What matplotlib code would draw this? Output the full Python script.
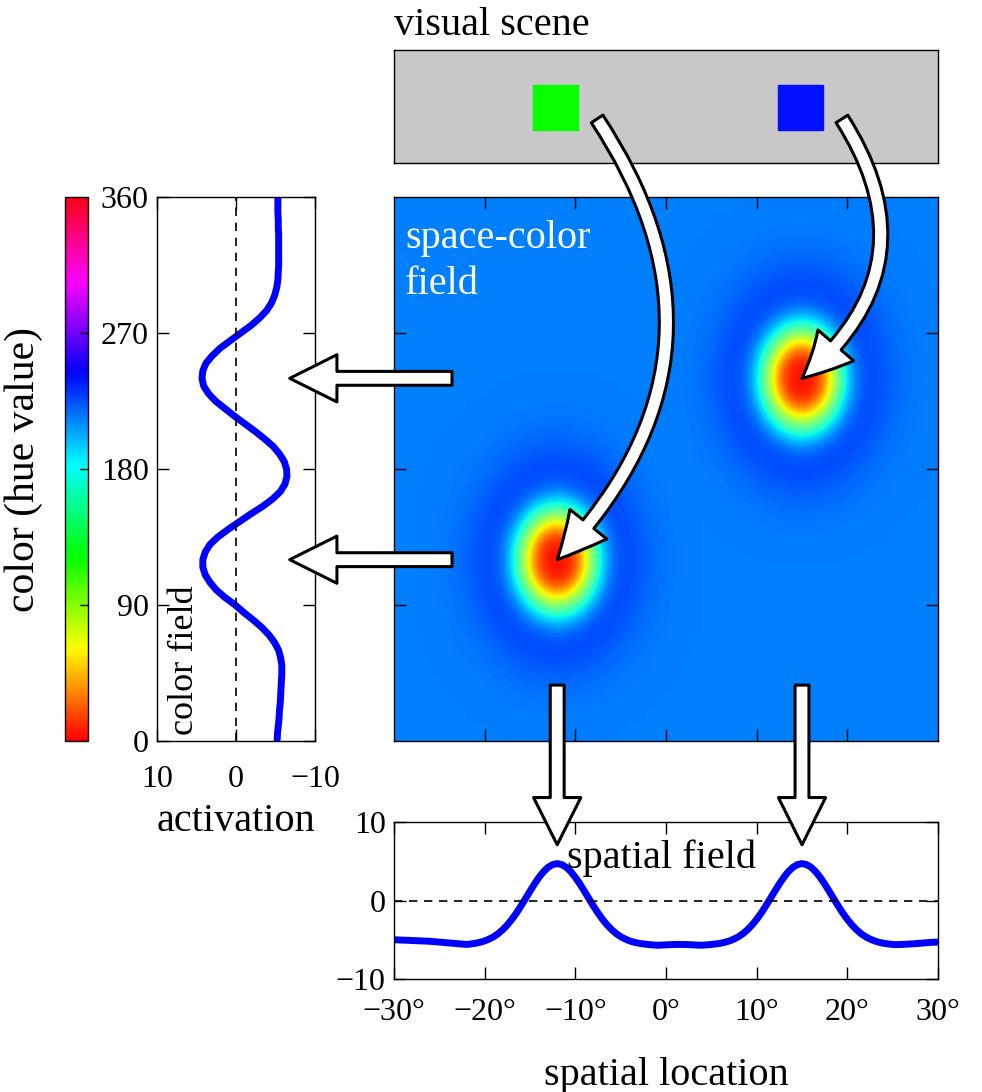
import numpy as np
import matplotlib
matplotlib.use("Agg")
import matplotlib.pyplot as plt
from matplotlib.patches import Rectangle, ConnectionPatch
from matplotlib.cm import ScalarMappable
from matplotlib.colors import Normalize

plt.rcParams['font.family'] = ['Liberation Serif', 'DejaVu Serif']
plt.rcParams['axes.linewidth'] = 1.0

# ----------------------------------------------------
# Datos

# estímulos de la escena visual (posición en grados, tono en grados)
stim_loc = [-12, 15]
stim_hue = [120, 240]

# campo espacial: activación cada 0.5 grados de -30 a 30
space_x = np.arange(-30, 30.01, 0.5)
space_act = [-5.0, -5.02, -5.05, -5.07, -5.1, -5.12, -5.15, -5.17, -5.2, -5.25,
             -5.3, -5.35, -5.4, -5.45, -5.5, -5.55, -5.6, -5.53, -5.45, -5.32,
             -5.15, -4.91, -4.61, -4.21, -3.71, -3.11, -2.4, -1.6, -0.71, 0.23,
             1.18, 2.11, 2.95, 3.68, 4.23, 4.58, 4.7, 4.58, 4.23, 3.68,
             2.95, 2.11, 1.18, 0.23, -0.71, -1.6, -2.4, -3.11, -3.71, -4.21,
             -4.61, -4.91, -5.15, -5.32, -5.45, -5.53, -5.6, -5.65, -5.7, -5.68,
             -5.65, -5.62, -5.6, -5.6, -5.6, -5.62, -5.65, -5.68, -5.7, -5.65,
             -5.6, -5.53, -5.45, -5.32, -5.15, -4.91, -4.61, -4.21, -3.71, -3.11,
             -2.4, -1.6, -0.71, 0.23, 1.18, 2.11, 2.95, 3.68, 4.23, 4.58,
             4.7, 4.58, 4.23, 3.68, 2.95, 2.11, 1.18, 0.23, -0.71, -1.6,
             -2.4, -3.11, -3.71, -4.21, -4.61, -4.91, -5.15, -5.32, -5.45, -5.53,
             -5.6, -5.62, -5.6, -5.57, -5.53, -5.5, -5.45, -5.4, -5.35, -5.32,
             -5.3]
space_ticks = [-30, -20, -10, 0, 10, 20, 30]

# campo de color: activación cada 5 grados de tono, de 0 a 360
hue_y = np.arange(0, 361, 5)
hue_act = [-5.2, -5.25, -5.35, -5.45, -5.5, -5.6, -5.65, -5.7, -5.75, -5.8,
           -5.8, -5.65, -5.4, -4.9, -4.2, -3.3, -2.2, -1.0, 0.1, 1.4,
           2.5, 3.3, 3.9, 4.2, 4.2, 3.9, 3.3, 2.3, 1.0, -0.4,
           -1.8, -3.3, -4.6, -5.6, -6.2, -6.45, -6.4, -6.1, -5.5, -4.7,
           -3.6, -2.4, -1.1, 0.2, 1.4, 2.6, 3.5, 4.1, 4.3, 4.2,
           3.8, 3.0, 2.0, 0.7, -0.6, -1.9, -3.0, -3.9, -4.5, -4.9,
           -5.15, -5.3, -5.35, -5.4, -5.4, -5.4, -5.4, -5.4, -5.35, -5.35,
           -5.3, -5.3, -5.3]
hue_ticks = [0, 90, 180, 270, 360]

# campo espacio-color: reposo, perfil radial de los picos y halo inhibitorio
field_rest = -5.0
peak_amp = 14.4
halo_amp = -1.5
hue_per_deg = 7.9          # elongación de los picos en el eje de tono
peak_r = [0, 0.75, 1.5, 2.25, 3.0, 3.75, 4.5, 5.25, 6.0, 6.75, 7.5, 8.25]
peak_w = [1.0, 0.995, 0.97, 0.88, 0.69, 0.49, 0.32, 0.19, 0.08, 0.03, 0.01, 0.0]
halo_r = [0, 3, 6, 7.5, 9, 10.5, 12, 13.5, 15]
halo_w = [1.0, 1.0, 0.9, 0.75, 0.5, 0.25, 0.1, 0.03, 0.0]
grid_x = np.arange(-30, 30.01, 1.0)
grid_h = np.arange(0, 361, 5)

gx, gh = np.meshgrid(grid_x, grid_h)
field = np.full(gx.shape, field_rest)
for xc, hc in zip(stim_loc, stim_hue):
    r = np.hypot(gx - xc, (gh - hc) / hue_per_deg)
    field += peak_amp * np.interp(r, peak_r, peak_w, right=0)
    field += halo_amp * np.interp(r, halo_r, halo_w, right=0)

# ----------------------------------------------------
# Figura

W, H = 982, 1092
fig = plt.figure(figsize=(W / 100, H / 100), dpi=100)


def box(x0, y0, x1, y1):
    # caja en pixeles (origen arriba-izquierda) -> fracción de figura
    return [x0 / W, 1 - y1 / H, (x1 - x0) / W, (y1 - y0) / H]


ax_scene = fig.add_axes(box(394, 50, 938, 163))
ax_heat = fig.add_axes(box(394, 197, 938, 741))
ax_col = fig.add_axes(box(157, 197, 315, 741))
ax_cb = fig.add_axes(box(65, 197, 88, 741))
ax_sp = fig.add_axes(box(394, 822, 938, 979))

FS_TXT = 29
FS_TICK = 23
tick_kw = dict(direction='in', length=8.5, width=1.0, top=True, right=True)

# escena visual
ax_scene.set_facecolor('#c8c8c8')
ax_scene.set_xlim(-30, 30)
ax_scene.set_ylim(0, 1)
ax_scene.set_xticks([])
ax_scene.set_yticks([])
for loc, hue in zip(stim_loc, stim_hue):
    ax_scene.add_patch(Rectangle((loc - 2.7, 0.29), 5, 0.40,
                                 color=plt.cm.hsv(hue / 360)))
ax_scene.text(0, 1.05, 'visual scene', transform=ax_scene.transAxes,
              ha='left', va='bottom', fontsize=FS_TXT)

# campo espacio-color
ax_heat.imshow(field, origin='lower', aspect='auto', cmap='jet',
               vmin=-10, vmax=10, interpolation='bicubic',
               extent=[-30.5, 30.5, -2.5, 362.5])
ax_heat.set_xlim(-30, 30)
ax_heat.set_ylim(0, 360)
ax_heat.set_xticks([-20, -10, 0, 10, 20])
ax_heat.set_yticks([90, 180, 270])
ax_heat.tick_params(labelbottom=False, labelleft=False, **tick_kw)
ax_heat.text(-28.8, 345, 'space-color\nfield', color='white', ha='left',
             va='top', fontsize=FS_TXT, linespacing=1.35)

# campo de color
ax_col.plot(hue_act, hue_y, color='blue', lw=5, solid_capstyle='butt')
ax_col.axvline(0, color='black', lw=1.2, ls=(0, (5, 4)))
ax_col.set_xlim(10, -10)
ax_col.set_ylim(0, 360)
ax_col.set_xticks([10, 0, -10])
ax_col.set_xticklabels(['10', '0', '\u221210'])
ax_col.set_yticks(hue_ticks)
ax_col.tick_params(labelsize=FS_TICK, pad=6, **tick_kw)
ax_col.tick_params(axis='x', pad=17)
ax_col.set_xlabel('activation', fontsize=FS_TXT, labelpad=7)
ax_col.text(6.5, 4, 'color field', rotation=90, ha='center', va='bottom',
            fontsize=26)

# barra de color (tono)
cb = fig.colorbar(ScalarMappable(Normalize(0, 360), 'hsv'), cax=ax_cb,
                  ticks=[90, 180, 270])
cb.ax.tick_params(direction='in', length=6, width=1.0, labelright=False)
cb.outline.set_linewidth(1.0)
cb.ax.yaxis.set_label_position('left')
cb.set_label('color (hue value)', fontsize=30, labelpad=16)

# campo espacial
ax_sp.plot(space_x, space_act, color='blue', lw=5, solid_capstyle='butt')
ax_sp.axhline(0, color='black', lw=1.2, ls=(0, (5, 4)))
ax_sp.set_xlim(-30, 30)
ax_sp.set_ylim(-10, 10)
ax_sp.set_xticks(space_ticks)
ax_sp.set_xticklabels([('\u2212' if v < 0 else '') + f'{abs(v)}\u00b0'
                       for v in space_ticks])
ax_sp.set_yticks([-10, 0, 10])
ax_sp.set_yticklabels(['\u221210', '0', '10'])
ax_sp.tick_params(labelsize=FS_TICK, pad=6, **tick_kw)
ax_sp.tick_params(axis='x', pad=14)
ax_sp.set_xlabel('spatial location', fontsize=FS_TXT, labelpad=21)
ax_sp.text(-0.5, 5.4, 'spatial field', ha='center', va='center',
           fontsize=FS_TXT)

# flechas
arrow_kw = dict(arrowstyle='simple,head_length=34,head_width=34,tail_width=10',
                fc='white', ec='black', lw=2.2, mutation_scale=1,
                shrinkA=0, shrinkB=0, zorder=10)
rads = [-0.4, -0.44]
for loc, hue, rad in zip(stim_loc, stim_hue, rads):
    # escena -> campo espacio-color
    fig.add_artist(ConnectionPatch(
        xyA=(loc + 4.4, 0.39), coordsA=ax_scene.transData,
        xyB=(loc, hue), coordsB=ax_heat.transData,
        connectionstyle=f'arc3,rad={rad}', **arrow_kw))
    # campo espacio-color -> campo de color
    fig.add_artist(ConnectionPatch(
        xyA=(-23.6, hue), coordsA=ax_heat.transData,
        xyB=(-6.8, hue), coordsB=ax_col.transData, **arrow_kw))
    # campo espacio-color -> campo espacial
    fig.add_artist(ConnectionPatch(
        xyA=(loc, 37), coordsA=ax_heat.transData,
        xyB=(loc, 7.1), coordsB=ax_sp.transData, **arrow_kw))

fig.savefig('out.png', dpi=100)
